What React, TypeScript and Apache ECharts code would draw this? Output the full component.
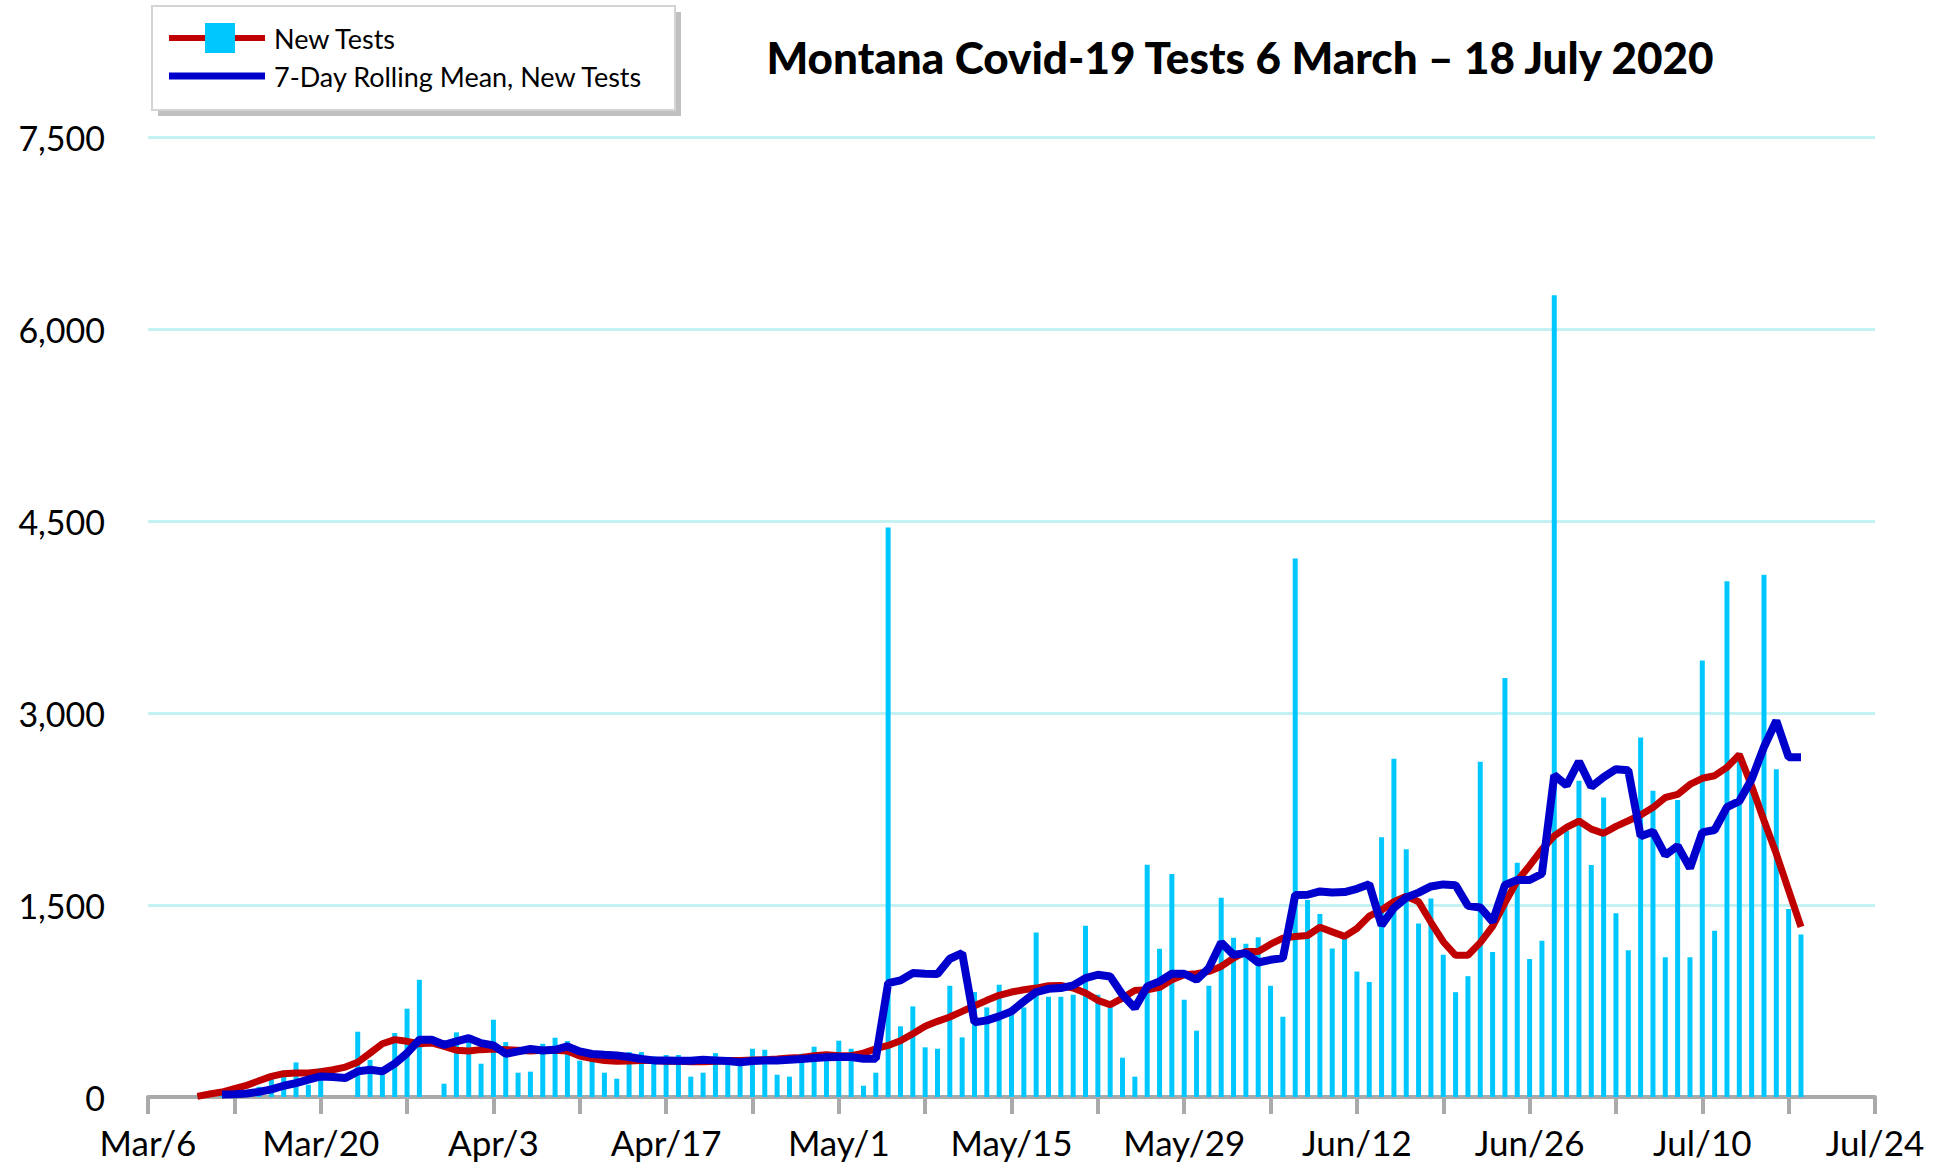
import React, { useEffect, useRef } from "react";
import * as echarts from "echarts";

// Day index 0 = 6 March 2020
const xTickLabels = ["Mar/6", "Mar/20", "Apr/3", "Apr/17", "May/1", "May/15", "May/29", "Jun/12", "Jun/26", "Jul/10", "Jul/24"];
const yTickLabels = ["0", "1,500", "3,000", "4,500", "6,000", "7,500"];

const barStartDay = 4;
const newTests = [
  2, 5, 10, 20, 40, 80, 150, 206, 270, 96, 226, 0, 0, 510, 290, 174, 500, 690, 916, 0,
  104, 505, 460, 260, 604, 429, 190, 198, 416, 463, 437, 284, 278, 190, 143, 351, 351, 317, 328, 328,
  159, 190, 343, 291, 265, 377, 369, 174, 159, 338, 393, 330, 440, 377, 88, 190, 4450, 552, 708, 388,
  377, 869, 466, 820, 700, 877, 680, 700, 1285, 783, 783, 799, 1337, 799, 708, 307, 159, 1814, 1158, 1743,
  760, 518, 869, 1556, 1244, 1197, 1249, 869, 627, 4207, 1540, 1430, 1160, 1235, 980, 899, 2029, 2642, 1936, 1355,
  1550, 1111, 819, 944, 2619, 1133, 3274, 1830, 1079, 1220, 6263, 2080, 2470, 1812, 2339, 1435, 1147, 2809, 2392, 1092,
  2320, 1092, 3410, 1298, 4030, 2690, 2420, 4080, 2560, 1468, 1269,
];

const redStartDay = 4;
const redLine = [
  5, 23, 39, 65, 91, 127, 161, 182, 187, 187, 198, 213, 234, 271, 343, 416, 448, 435, 416, 422,
  395, 365, 360, 370, 375, 370, 365, 360, 365, 365, 360, 320, 300, 285, 280, 282, 285, 285, 280, 280,
  275, 275, 280, 285, 285, 290, 291, 296, 304, 309, 323, 330, 323, 323, 343, 377, 403, 440, 494, 552,
  591, 625, 669, 713, 755, 794, 820, 838, 851, 870, 872, 851, 812, 755, 721, 773, 833, 838, 856, 916,
  955, 963, 981, 1020, 1085, 1137, 1137, 1194, 1241, 1254, 1262, 1326, 1290, 1255, 1316, 1413, 1461, 1526, 1568, 1526,
  1365, 1213, 1107, 1107, 1206, 1333, 1517, 1690, 1807, 1935, 2040, 2106, 2156, 2093, 2060, 2114, 2158, 2203, 2261, 2340,
  2364, 2442, 2490, 2510, 2575, 2675, 2430, 2160, 1900, 1615, 1330,
];

const blueStartDay = 6;
const rollingMean = [
  20, 22, 28, 40, 60, 88, 109, 135, 161, 156, 148, 200, 213, 200, 260, 343, 447, 447, 408, 434,
  460, 421, 403, 338, 356, 375, 364, 369, 395, 356, 336, 330, 325, 312, 297, 286, 286, 284, 284, 291,
  286, 281, 271, 281, 286, 286, 291, 296, 304, 310, 312, 312, 299, 299, 890, 911, 968, 963, 960, 1080,
  1124, 583, 599, 630, 669, 747, 820, 845, 851, 872, 929, 955, 942, 799, 695, 864, 903, 963, 963, 916,
  1007, 1207, 1111, 1124, 1051, 1072, 1085, 1579, 1580, 1606, 1598, 1601, 1626, 1662, 1342, 1477, 1558, 1597, 1645, 1661,
  1655, 1494, 1481, 1370, 1656, 1695, 1695, 1744, 2514, 2435, 2621, 2423, 2499, 2561, 2553, 2038, 2073, 1890, 1962, 1788,
  2067, 2086, 2265, 2311, 2482, 2734, 2940, 2655, 2655,
];

const toPairs = (start: number, arr: number[]) => arr.map((v, i) => [start + i, v]);

const FONT = "Lato";

export default function App() {
  const ref = useRef<HTMLDivElement>(null);
  useEffect(() => {
    if (!ref.current) return;
    const chart = echarts.init(ref.current, null, { renderer: "svg" });
    chart.setOption({
      animation: false,
      backgroundColor: "#ffffff",
      grid: { left: 148, right: 75, top: 137, bottom: 69, containLabel: false },
      xAxis: {
        type: "value",
        min: 0,
        max: 140,
        interval: 7,
        axisLine: { show: true, lineStyle: { color: "#aaaaaa", width: 4 } },
        axisTick: { show: true, length: 17, lineStyle: { color: "#aaaaaa", width: 4 } },
        splitLine: { show: false },
        axisLabel: {
          margin: 27,
          fontFamily: FONT,
          fontSize: 35,
          color: "#000000",
          formatter: (v: number) => (v % 14 === 0 ? xTickLabels[v / 14] : ""),
        },
      },
      yAxis: {
        type: "value",
        min: 0,
        max: 7500,
        interval: 1500,
        axisLine: { show: false },
        axisTick: { show: false },
        splitLine: { show: true, lineStyle: { color: "#c4f2f2", width: 3 } },
        axisLabel: {
          margin: 43,
          fontFamily: FONT,
          fontSize: 34,
          color: "#000000",
          formatter: (v: number) => yTickLabels[Math.round(v / 1500)],
        },
      },
      series: [
        {
          type: "bar",
          name: "New Tests",
          data: toPairs(barStartDay, newTests),
          barWidth: 5,
          itemStyle: { color: "#00c8ff" },
          z: 1,
        },
        {
          type: "line",
          name: "Centered",
          data: toPairs(redStartDay, redLine),
          showSymbol: false,
          symbol: "none",
          lineStyle: { color: "#c00000", width: 7 },
          z: 2,
        },
        {
          type: "line",
          name: "7-Day Rolling Mean, New Tests",
          data: toPairs(blueStartDay, rollingMean),
          showSymbol: false,
          symbol: "none",
          lineStyle: { color: "#0000cc", width: 8 },
          z: 3,
        },
      ],
      graphic: [
        { type: "rect", shape: { x: 158, y: 12, width: 523, height: 104 }, style: { fill: "#c0c0c0" }, z: 10 },
        { type: "rect", shape: { x: 152, y: 6, width: 523, height: 104 }, style: { fill: "#ffffff", stroke: "#d4d4d4", lineWidth: 2 }, z: 11 },
        { type: "line", shape: { x1: 169, y1: 38, x2: 265, y2: 38 }, style: { stroke: "#c00000", lineWidth: 6 }, z: 12 },
        { type: "rect", shape: { x: 205, y: 23, width: 30, height: 30 }, style: { fill: "#00c8ff" }, z: 13 },
        { type: "text", x: 274, y: 38, style: { text: "New Tests", fontFamily: FONT, fontSize: 27, fill: "#000000", textVerticalAlign: "middle", verticalAlign: "middle" }, z: 12 },
        { type: "line", shape: { x1: 169, y1: 76, x2: 265, y2: 76 }, style: { stroke: "#0000cc", lineWidth: 7 }, z: 12 },
        { type: "text", x: 274, y: 76, style: { text: "7-Day Rolling Mean, New Tests", fontFamily: FONT, fontSize: 27, fill: "#000000", textVerticalAlign: "middle", verticalAlign: "middle" }, z: 12 },
        {
          type: "text",
          x: 1240,
          y: 57,
          style: {
            text: "Montana Covid-19 Tests 6 March – 18 July 2020",
            fontFamily: FONT,
            fontWeight: 900,
            fontSize: 44,
            fill: "#000000",
            align: "center",
            textAlign: "center",
            verticalAlign: "middle",
            textVerticalAlign: "middle",
          },
          z: 12,
        },
      ],
    });
    return () => chart.dispose();
  }, []);
  return <div ref={ref} style={{ position: "absolute", left: 0, top: 0, width: 1950, height: 1166 }} />;
}
